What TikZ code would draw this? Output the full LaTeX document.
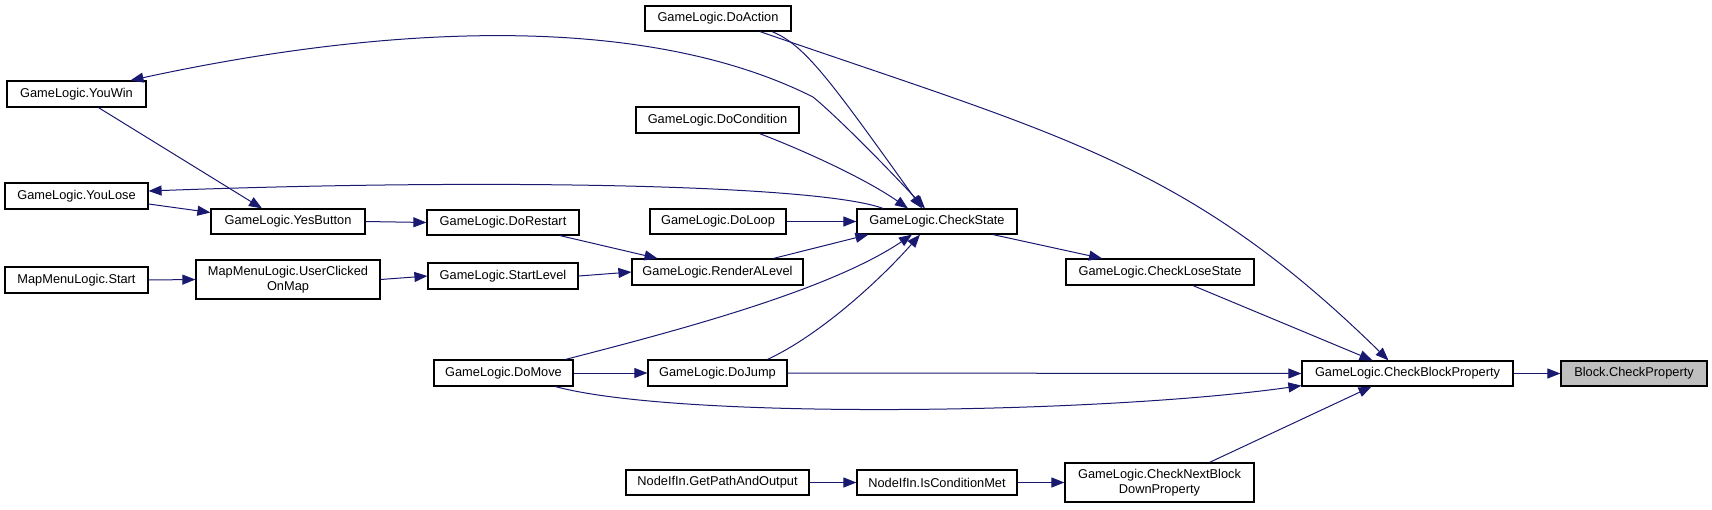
\documentclass[tikz,border=0pt]{standalone}
\usepackage{fontspec}
\setmainfont{Liberation Sans}
\usetikzlibrary{arrows.meta}
\definecolor{edgeblue}{HTML}{191970}
\definecolor{hilite}{HTML}{BFBFBF}
\begin{document}
\begin{tikzpicture}[x=1pt,y=-1pt,
  fn/.style={draw=black,line width=1.2pt,fill=white,inner sep=0pt,align=center,
    font=\fontsize{12.8pt}{15pt}\selectfont},
  arr/.style={draw=edgeblue,line width=1pt,-{Triangle[length=13pt,width=10pt]}},
  arrboth/.style={draw=edgeblue,line width=1pt,{Triangle[length=13pt,width=10pt]}-{Triangle[length=13pt,width=10pt]}}]
\useasboundingbox (0,0) rectangle (1712,509);
% nodes
\node[fn,minimum width=139pt,minimum height=26pt] (yw) at (76.5,94) {GameLogic.YouWin};
\node[fn,minimum width=143pt,minimum height=26pt] (yl) at (76.5,196) {GameLogic.YouLose};
\node[fn,minimum width=154pt,minimum height=25pt] (yb) at (288,221.5) {GameLogic.YesButton};
\node[fn,minimum width=143pt,minimum height=26pt] (ms) at (76.5,280) {MapMenuLogic.Start};
\node[fn,minimum width=184pt,minimum height=39pt] (uc) at (288,279.5) {MapMenuLogic.UserClicked\\OnMap};
\node[fn,minimum width=146pt,minimum height=25pt] (da) at (718,18.5) {GameLogic.DoAction};
\node[fn,minimum width=163pt,minimum height=26pt] (dc) at (717.5,120) {GameLogic.DoCondition};
\node[fn,minimum width=152pt,minimum height=25pt] (dr) at (503,222.5) {GameLogic.DoRestart};
\node[fn,minimum width=136pt,minimum height=25pt] (dl) at (718,221.5) {GameLogic.DoLoop};
\node[fn,minimum width=150pt,minimum height=26pt] (sl) at (503,276) {GameLogic.StartLevel};
\node[fn,minimum width=171pt,minimum height=26pt] (ral) at (717.5,272) {GameLogic.RenderALevel};
\node[fn,minimum width=160pt,minimum height=25pt] (cs) at (937,221.5) {GameLogic.CheckState};
\node[fn,minimum width=188pt,minimum height=26pt] (cls) at (1160,272) {GameLogic.CheckLoseState};
\node[fn,minimum width=211pt,minimum height=25pt] (cbp) at (1407.5,373.5) {GameLogic.CheckBlockProperty};
\node[fn,fill=hilite,minimum width=146pt,minimum height=25pt] (bcp) at (1634,373.5) {Block.CheckProperty};
\node[fn,minimum width=139pt,minimum height=26pt] (dm) at (503.5,373) {GameLogic.DoMove};
\node[fn,minimum width=139pt,minimum height=26pt] (dj) at (717.5,373) {GameLogic.DoJump};
\node[fn,minimum width=183pt,minimum height=25pt] (gp) at (717.5,482.5) {NodeIfIn.GetPathAndOutput};
\node[fn,minimum width=160pt,minimum height=25pt] (icm) at (937,482.5) {NodeIfIn.IsConditionMet};
\node[fn,minimum width=189pt,minimum height=39pt] (cn) at (1159.5,482.5) {GameLogic.CheckNextBlock\\DownProperty};
% edges
\draw[arr] (cbp.east) -- (bcp.west);
\draw[arr] ([xshift=33pt]cls.south) -- ([xshift=-35pt]cbp.north);
\draw[arr] ([xshift=42pt]da.south) .. controls (1062,136) and (1188,164) .. ([xshift=-19pt]cbp.north);
\draw[arr] (dj.east) -- (cbp.west);
\draw[arr] ([xshift=52pt]dm.south) .. controls (680,420) and (1100,414) .. ([yshift=1pt]cbp.south west);
\draw[arr] ([xshift=50pt]cn.north) -- ([xshift=-36pt]cbp.south);
\draw[arr] ([xshift=56pt]cs.south) -- ([xshift=-58pt]cls.north);
\draw[arr] ([xshift=54pt]da.south) .. controls (805,45) and (830,80) .. ([xshift=-15pt]cs.north);
\draw[arrboth] ([xshift=-12pt]cs.north) .. controls (880,160) and (835,115) .. (813,97) .. controls (650,15) and (400,22) .. ([xshift=54pt]yw.north);
\draw[arr] ([xshift=-54pt]cs.north) .. controls (820,185) and (500,178) .. ([yshift=5pt]yl.east);
\draw[arr] ([xshift=42pt]dc.south) .. controls (790,145) and (860,175) .. ([xshift=-29pt]cs.north);
\draw[arr] (dl.east) -- (cs.west);
\draw[arr] ([xshift=56pt]ral.north) -- ([xshift=12pt]cs.south west);
\draw[arr] ([xshift=62pt]dm.north) .. controls (680,330) and (830,290) .. ([xshift=-25pt]cs.south);
\draw[arr] ([xshift=50pt]dj.north) .. controls (820,335) and (880,280) .. ([xshift=-17pt]cs.south);
\draw[arr] ([xshift=22pt]yw.south) -- ([xshift=-26pt]yb.north);
\draw[arr] ([yshift=-8pt]yl.east) -- ([yshift=9pt]yb.west);
\draw[arr] (yb.east) -- (dr.west);
\draw[arr] ([xshift=57pt]dr.south) -- ([xshift=-60pt]ral.north);
\draw[arr] (sl.east) -- (ral.west);
\draw[arr] (uc.east) -- (sl.west);
\draw[arr] (ms.east) -- (uc.west);
\draw[arr] (dm.east) -- (dj.west);
\draw[arr] (gp.east) -- (icm.west);
\draw[arr] (icm.east) -- (cn.west);
\end{tikzpicture}
\end{document}
